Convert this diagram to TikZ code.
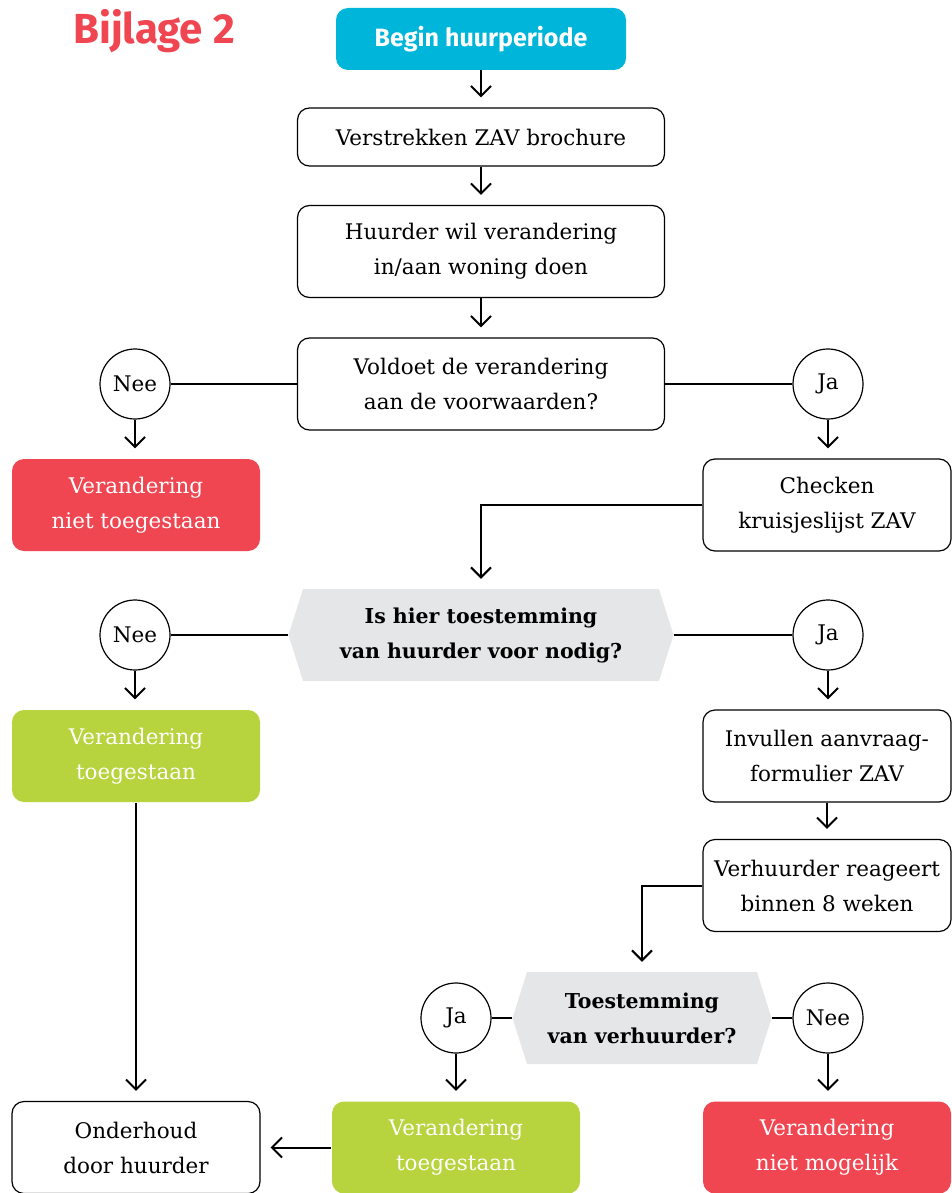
\documentclass[tikz,border=0pt]{standalone}
\usepackage{fontspec}
\setmainfont{DejaVu Serif}
\newfontfamily\koppenfont{Fira Sans}
\usetikzlibrary{arrows.meta,shapes.symbols}
\definecolor{cyaan}{RGB}{0,181,218}
\definecolor{rood}{RGB}{239,70,82}
\definecolor{groen}{RGB}{183,211,61}
\definecolor{grijs}{RGB}{229,230,232}
\begin{document}
\begin{tikzpicture}[x=1pt,y=-1pt,>={Straight Barb[length=10pt,width=20pt,line width=2pt]},
	box/.style={draw,line width=1.2pt,rounded corners=12pt,minimum width=248pt,minimum height=92pt,
		align=center,inner sep=0pt,font=\fontsize{21.5}{35}\selectfont},
	breed/.style={box,minimum width=367pt},
	roodbox/.style={box,draw=none,fill=rood,text=white},
	groenbox/.style={box,draw=none,fill=groen,text=white},
	vraag/.style={signal,signal to=east and west,signal pointer angle=145,fill=grijs,minimum width=385pt,
		minimum height=92pt,align=center,inner sep=0pt,font=\fontsize{20.5}{35}\selectfont\bfseries},
	keuze/.style={circle,draw,line width=1.2pt,minimum size=70pt,inner sep=0pt,font=\fontsize{21.5}{24}\selectfont},
	lijn/.style={line width=2pt},
	pijl/.style={->,line width=2pt,shorten >=10pt}]
	\useasboundingbox (0,0) rectangle (951,1193);
	% kop
	\node[text=rood,font=\koppenfont\bfseries\fontsize{42}{44}\selectfont] (titel) at (154,31) {Bijlage 2};
	\node[fill=cyaan,text=white,rounded corners=12pt,minimum width=290pt,minimum height=62pt,
		font=\koppenfont\bfseries\fontsize{25}{27}\selectfont] (begin) at (481,39) {Begin huurperiode};
	% middenkolom
	\node[breed,minimum height=58pt] (brochure) at (481,137) {Verstrekken ZAV brochure};
	\node[breed] (wil) at (481,251.5) {Huurder wil verandering\\in/aan woning doen};
	\node[breed] (voldoet) at (481,384) {Voldoet de verandering\\aan de voorwaarden?};
	\node[keuze] (nee1) at (135,384) {Nee};
	\node[keuze] (ja1) at (828,384) {Ja};
	\node[roodbox] (niet1) at (136,505) {Verandering\\niet toegestaan};
	\node[box] (checken) at (827,505) {Checken\\kruisjeslijst ZAV};
	% eerste vraag
	\node[vraag] (huurdervraag) at (481,635) {Is hier toestemming\\van huurder voor nodig?};
	\node[keuze] (nee2) at (135,635) {Nee};
	\node[keuze] (ja2) at (828,635) {Ja};
	\node[groenbox] (toe1) at (136,756) {Verandering\\toegestaan};
	\node[box] (invullen) at (827,756) {Invullen aanvraag-\\formulier ZAV};
	\node[box] (reageert) at (827,885.5) {Verhuurder reageert\\binnen 8 weken};
	% tweede vraag
	\node[vraag,minimum width=259pt] (verhuurdervraag) at (642,1018) {Toestemming\\van verhuurder?};
	\node[keuze] (ja3) at (456,1018) {Ja};
	\node[keuze] (nee3) at (828,1018) {Nee};
	\node[groenbox] (toe2) at (456,1147.5) {Verandering\\toegestaan};
	\node[roodbox] (niet2) at (827,1147.5) {Verandering\\niet mogelijk};
	\node[box] (onderhoud) at (136,1147.5) {Onderhoud\\door huurder};
	% verbindingen
	\draw[pijl] (begin.south) -- (brochure.north);
	\draw[pijl] (brochure.south) -- (wil.north);
	\draw[pijl] (wil.south) -- (voldoet.north);
	\draw[lijn] (voldoet.west) -- (nee1.east);
	\draw[lijn] (voldoet.east) -- (ja1.west);
	\draw[pijl] (nee1.south) -- (nee1.south |- niet1.north);
	\draw[pijl] (ja1.south) -- (ja1.south |- checken.north);
	\draw[pijl] (checken.west) -| (huurdervraag.north);
	\draw[lijn] (huurdervraag.west) -- (nee2.east);
	\draw[lijn] (huurdervraag.east) -- (ja2.west);
	\draw[pijl] (nee2.south) -- (nee2.south |- toe1.north);
	\draw[pijl] (ja2.south) -- (ja2.south |- invullen.north);
	\draw[pijl] (invullen.south) -- (invullen.south |- reageert.north);
	\draw[pijl] (reageert.west) -| (verhuurdervraag.north);
	\draw[lijn] (verhuurdervraag.west) -- (ja3.east);
	\draw[lijn] (verhuurdervraag.east) -- (nee3.west);
	\draw[pijl] (ja3.south) -- (ja3.south |- toe2.north);
	\draw[pijl] (nee3.south) -- (nee3.south |- niet2.north);
	\draw[pijl] (toe1.south) -- (onderhoud.north);
	\draw[pijl] (toe2.west) -- (onderhoud.east);
\end{tikzpicture}
\end{document}
